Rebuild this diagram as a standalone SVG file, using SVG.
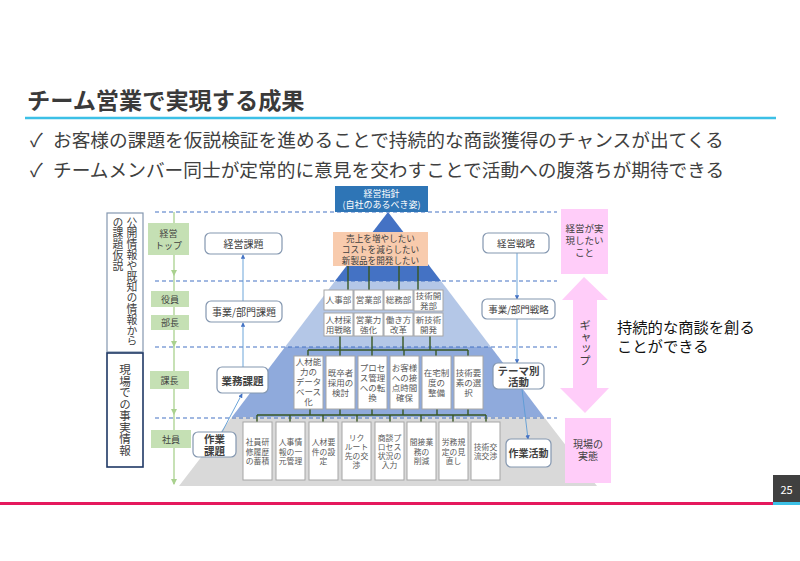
<svg xmlns="http://www.w3.org/2000/svg" width="800" height="561" viewBox="0 0 800 561">
<defs>
<style>
text{font-family:"Noto Sans CJK JP","Noto Sans",sans-serif;fill:#404040}
.t{text-anchor:middle}
.box{fill:#fff;stroke:#8497b0;stroke-width:1.2}
.sb{fill:#fff;stroke:#a6a6a6;stroke-width:1}
.gr{fill:#c5e0b4}
.pk{fill:#ffcdf9}
.dash{stroke:#4472c4;stroke-width:1.2;stroke-dasharray:4 3;fill:none}
.tree{stroke:#385723;stroke-width:1.4;fill:none}
.blu{stroke:#5b9bd5;stroke-width:0.9;fill:none}
.s85{font-size:8.5px;fill:#595959}
.s78{font-size:7.8px;fill:#595959}
.vt{writing-mode:vertical-rl}
</style>
<marker id="ab" viewBox="0 0 6 6" refX="5" refY="3" markerWidth="5" markerHeight="5" orient="auto"><path d="M0,0 L6,3 L0,6 z" fill="#4472c4"/></marker>
<marker id="ag" viewBox="0 0 6 6" refX="5" refY="3" markerWidth="5" markerHeight="5" orient="auto"><path d="M0,0 L6,3 L0,6 z" fill="#a9d18e"/></marker>
</defs>
<rect width="800" height="561" fill="#fff"/>

<!-- header -->
<g id="title">
<text x="27" y="109" style="font-size:23.2px;font-weight:bold;fill:#3a3a3a">チーム営業で実現する成果</text>
<line x1="25" y1="118" x2="776" y2="118" stroke="#3cc0e6" stroke-width="2.5"/>
</g>
<g id="bullets" style="font-size:18.7px">
<text x="30" y="147">✓</text>
<text x="53" y="147">お客様の課題を仮説検証を進めることで持続的な商談獲得のチャンスが出てくる</text>
<text x="30" y="177">✓</text>
<text x="53" y="177">チームメンバー同士が定常的に意見を交わすことで活動への腹落ちが期待できる</text>
</g>

<!-- pyramid -->
<g id="pyramid">
<polygon points="232,417 544,417 597,486 179,486" fill="#d9d9d9"/>
<polygon points="285,347 491,347 544,417 232,417" fill="#8faadc"/>
<polygon points="335,281 441,281 491,347 285,347" fill="#b4c7e7"/>
<polygon points="388,212 335,281 441,281" fill="#4472c4"/>
</g>

<!-- dashed level lines -->
<g id="levels">
<line class="dash" x1="155" y1="212" x2="557" y2="212"/>
<line class="dash" x1="155" y1="281" x2="557" y2="281"/>
<line class="dash" x1="155" y1="347" x2="557" y2="347"/>
<line class="dash" x1="155" y1="418" x2="557" y2="418"/>
</g>

<!-- connectors -->
<g id="connectors">
<g stroke="#a9d18e" stroke-width="1.3" fill="none">
<line x1="174" y1="212" x2="174" y2="223"/>
<line x1="174" y1="255" x2="174" y2="275" marker-end="url(#ag)"/>
<line x1="174" y1="275" x2="174" y2="291"/>
<line x1="174" y1="307" x2="174" y2="315"/>
<line x1="174" y1="330" x2="174" y2="346" marker-end="url(#ag)"/>
<line x1="174" y1="346" x2="174" y2="371"/>
<line x1="174" y1="389" x2="174" y2="414" marker-end="url(#ag)"/>
<line x1="174" y1="414" x2="174" y2="430"/>
<line x1="174" y1="448" x2="174" y2="484" marker-end="url(#ag)"/>
</g>
<line class="blu" x1="243" y1="301" x2="243" y2="255" marker-end="url(#ab)"/>
<line class="blu" x1="243" y1="367" x2="243" y2="323" marker-end="url(#ab)"/>
<line class="blu" x1="222" y1="432" x2="242" y2="394" marker-end="url(#ab)"/>
<line class="blu" x1="517" y1="253" x2="517" y2="299" marker-end="url(#ab)"/>
<line class="blu" x1="517" y1="319" x2="517" y2="363" marker-end="url(#ab)"/>
<line class="blu" x1="522" y1="389" x2="528" y2="439" marker-end="url(#ab)"/>
<g class="tree">
<path d="M348,266V290 M369,266V290 M399,266V290 M418,266V290"/>
<path d="M340,336V350 M372,336V350 M403,336V350 M430,336V350 M308,350H468 M308,350V356 M340,350V356 M372,350V356 M404,350V356 M436,350V356 M468,350V356"/>
<path d="M310,409V415 M340,409V415 M372,409V415 M403,409V415 M437,409V415 M468,409V415 M257,415H486 M257,415V422 M290,415V422 M323,415V422 M357,415V422 M390,415V422 M421,415V422 M453,415V422 M486,415V422"/>
</g>
</g>

<!-- left vertical boxes -->
<g id="hypothesis">
<rect x="107" y="213" width="36" height="139" fill="#fff" stroke="#8497b0" stroke-width="1.2"/>
<text class="vt" x="132" y="217" style="font-size:10.8px">公開情報や既知の情報から</text>
<text class="vt" x="118" y="217" style="font-size:10.8px">の課題仮説</text>
</g>
<g id="facts">
<rect x="107" y="353" width="36" height="114" fill="#fff" stroke="#1f3864" stroke-width="1.6"/>
<text class="vt" x="125" y="364" style="font-size:11.5px">現場での事実情報</text>
</g>

<!-- green role boxes -->
<g id="role-top"><rect class="gr" x="148" y="223" width="41" height="32"/>
<text class="t" x="168.5" y="237" style="font-size:9px">経営</text><text class="t" x="168.5" y="249" style="font-size:9px">トップ</text></g>
<g id="role-exec"><rect class="gr" x="151" y="291" width="38" height="16"/><text class="t" x="170" y="302.5" style="font-size:9px">役員</text></g>
<g id="role-gm"><rect class="gr" x="151" y="315" width="38" height="15"/><text class="t" x="170" y="326" style="font-size:9px">部長</text></g>
<g id="role-mgr"><rect class="gr" x="150" y="371" width="39" height="18"/><text class="t" x="169.5" y="383.5" style="font-size:9px">課長</text></g>
<g id="role-staff"><rect class="gr" x="151" y="430" width="40" height="18"/><text class="t" x="171" y="442.5" style="font-size:9px">社員</text></g>

<!-- issue column -->
<g id="issue-mgmt"><rect class="box" x="205" y="233" width="77" height="21" rx="5"/><text class="t" x="243.5" y="247.5" style="font-size:10px">経営課題</text></g>
<g id="issue-dept"><rect class="box" x="206" y="301" width="76" height="21" rx="5"/><text class="t" x="244" y="315.5" style="font-size:10px">事業/部門課題</text></g>
<g id="issue-ops"><rect class="box" x="217" y="367" width="51" height="26" rx="5"/><text class="t" x="242.5" y="384.5" style="font-size:10.5px;font-weight:bold">業務課題</text></g>
<g id="issue-task"><rect class="box" x="193" y="432" width="43" height="25" rx="5"/>
<text class="t" x="214.5" y="443" style="font-size:10.5px;font-weight:bold">作業</text><text class="t" x="214.5" y="455" style="font-size:10.5px;font-weight:bold">課題</text></g>

<!-- strategy column -->
<g id="strat-mgmt"><rect class="box" x="483" y="233" width="66" height="20" rx="5"/><text class="t" x="516" y="246.5" style="font-size:9.5px">経営戦略</text></g>
<g id="strat-dept"><rect class="box" x="482" y="299" width="73" height="20" rx="5"/><text class="t" x="518.5" y="312.5" style="font-size:9.5px">事業/部門戦略</text></g>
<g id="strat-theme"><rect class="box" x="493" y="363" width="51" height="26" rx="5"/>
<text class="t" x="518.5" y="374.5" style="font-size:10.5px;font-weight:bold">テーマ別</text><text class="t" x="518.5" y="386" style="font-size:10.5px;font-weight:bold">活動</text></g>
<g id="strat-task"><rect class="box" x="506" y="439" width="45" height="28" rx="5"/><text class="t" x="528.5" y="457" style="font-size:10px;font-weight:bold">作業活動</text></g>

<!-- top policy -->
<g id="policy"><rect x="335" y="186" width="93" height="26" fill="#2e75b6"/>
<text class="t" x="381.5" y="197" style="font-size:9px;fill:#fff">経営指針</text><text class="t" x="381.5" y="208" style="font-size:9px;fill:#fff">(自社のあるべき姿)</text></g>
<g id="wants"><rect x="333" y="232" width="95" height="34" fill="#f8cbad"/>
<text class="t" x="380.5" y="241.5" style="font-size:8.6px">売上を増やしたい</text>
<text class="t" x="380.5" y="252.5" style="font-size:8.6px">コストを減らしたい</text>
<text class="t" x="380.5" y="263.5" style="font-size:8.6px">新製品を開発したい</text></g>

<!-- departments -->
<g id="dept-hr"><rect class="sb" x="324" y="290" width="29" height="20"/><text class="t s85" x="338.5" y="303">人事部</text></g>
<g id="dept-sales"><rect class="sb" x="354" y="290" width="29" height="20"/><text class="t s85" x="368.5" y="303">営業部</text></g>
<g id="dept-ga"><rect class="sb" x="384" y="290" width="29" height="20"/><text class="t s85" x="398.5" y="303">総務部</text></g>
<g id="dept-rd"><rect class="sb" x="414" y="290" width="29" height="21"/><text class="t s85" x="428.5" y="299">技術開</text><text class="t s85" x="428.5" y="308.5">発部</text></g>
<g id="goal-hr"><rect class="sb" x="324" y="313" width="29" height="23"/><text class="t s85" x="338.5" y="323">人材採</text><text class="t s85" x="338.5" y="332.5">用戦略</text></g>
<g id="goal-sales"><rect class="sb" x="354" y="313" width="29" height="23"/><text class="t s85" x="368.5" y="323">営業力</text><text class="t s85" x="368.5" y="332.5">強化</text></g>
<g id="goal-ga"><rect class="sb" x="384" y="313" width="29" height="23"/><text class="t s85" x="398.5" y="323">働き方</text><text class="t s85" x="398.5" y="332.5">改革</text></g>
<g id="goal-rd"><rect class="sb" x="414" y="313" width="29" height="23"/><text class="t s85" x="428.5" y="323">新技術</text><text class="t s85" x="428.5" y="332.5">開発</text></g>

<!-- business tasks -->
<g id="ops1"><rect class="sb" x="294" y="356" width="29" height="53"/>
<text class="t s85" x="308.5" y="365">人材能</text><text class="t s85" x="308.5" y="375">力の</text><text class="t s85" x="308.5" y="385">データ</text><text class="t s85" x="308.5" y="395">ベース</text><text class="t s85" x="308.5" y="405">化</text></g>
<g id="ops2"><rect class="sb" x="326" y="356" width="29" height="53"/>
<text class="t s85" x="340.5" y="376">既卒者</text><text class="t s85" x="340.5" y="386">採用の</text><text class="t s85" x="340.5" y="396">検討</text></g>
<g id="ops3"><rect class="sb" x="358" y="356" width="29" height="53"/>
<text class="t s85" x="372.5" y="371">プロセ</text><text class="t s85" x="372.5" y="381">ス管理</text><text class="t s85" x="372.5" y="391">への転</text><text class="t s85" x="372.5" y="401">換</text></g>
<g id="ops4"><rect class="sb" x="390" y="356" width="29" height="53"/>
<text class="t s85" x="404.5" y="371">お客様</text><text class="t s85" x="404.5" y="381">への接</text><text class="t s85" x="404.5" y="391">点時間</text><text class="t s85" x="404.5" y="401">確保</text></g>
<g id="ops5"><rect class="sb" x="422" y="356" width="29" height="53"/>
<text class="t s85" x="436.5" y="376">在宅制</text><text class="t s85" x="436.5" y="386">度の</text><text class="t s85" x="436.5" y="396">整備</text></g>
<g id="ops6"><rect class="sb" x="454" y="356" width="29" height="53"/>
<text class="t s85" x="468.5" y="376">技術要</text><text class="t s85" x="468.5" y="386">素の選</text><text class="t s85" x="468.5" y="396">択</text></g>

<!-- work items -->
<g id="w1"><rect class="sb" x="243" y="422" width="29" height="58"/><text class="t s78" x="257.5" y="445">社員研</text><text class="t s78" x="257.5" y="454.5">修履歴</text><text class="t s78" x="257.5" y="464">の蓄積</text></g>
<g id="w2"><rect class="sb" x="276" y="422" width="29" height="58"/><text class="t s78" x="290.5" y="445">人事情</text><text class="t s78" x="290.5" y="454.5">報の一</text><text class="t s78" x="290.5" y="464">元管理</text></g>
<g id="w3"><rect class="sb" x="309" y="422" width="29" height="58"/><text class="t s78" x="323.5" y="445">人材要</text><text class="t s78" x="323.5" y="454.5">件の設</text><text class="t s78" x="323.5" y="464">定</text></g>
<g id="w4"><rect class="sb" x="342" y="422" width="29" height="58"/><text class="t s78" x="356.5" y="441">リク</text><text class="t s78" x="356.5" y="450">ルート</text><text class="t s78" x="356.5" y="459">先の交</text><text class="t s78" x="356.5" y="468">渉</text></g>
<g id="w5"><rect class="sb" x="375" y="422" width="29" height="58"/><text class="t s78" x="389.5" y="441">商談プ</text><text class="t s78" x="389.5" y="450">ロセス</text><text class="t s78" x="389.5" y="459">状況の</text><text class="t s78" x="389.5" y="468">入力</text></g>
<g id="w6"><rect class="sb" x="407" y="422" width="29" height="58"/><text class="t s78" x="421.5" y="445">間接業</text><text class="t s78" x="421.5" y="454.5">務の</text><text class="t s78" x="421.5" y="464">削減</text></g>
<g id="w7"><rect class="sb" x="439" y="422" width="29" height="58"/><text class="t s78" x="453.5" y="445">労務規</text><text class="t s78" x="453.5" y="454.5">定の見</text><text class="t s78" x="453.5" y="464">直し</text></g>
<g id="w8"><rect class="sb" x="471" y="422" width="29" height="58"/><text class="t s78" x="485.5" y="450">技術交</text><text class="t s78" x="485.5" y="459">流交渉</text></g>

<!-- pink side -->
<g id="want-box"><rect class="pk" x="561" y="209" width="47" height="65"/>
<text class="t" x="584.5" y="232" style="font-size:9.5px">経営が実</text><text class="t" x="584.5" y="244" style="font-size:9.5px">現したい</text><text class="t" x="584.5" y="256" style="font-size:9.5px">こと</text></g>
<g id="gap-arrow"><polygon class="pk" points="584,277 608,300 597,300 597,388 609,388 585,413 560,388 573,388 573,300 562,300"/>
<text class="vt" x="585" y="320" style="font-size:11.5px">ギャップ</text></g>
<g id="reality-box"><rect class="pk" x="565" y="418" width="46" height="65"/>
<text class="t" x="588" y="448" style="font-size:10px">現場の</text><text class="t" x="588" y="460" style="font-size:10px">実態</text></g>

<g id="conclusion" style="font-size:15.3px">
<text x="617" y="333" style="fill:#111">持続的な商談を創る</text>
<text x="617" y="352" style="fill:#111">ことができる</text>
</g>

<!-- footer -->
<g id="footer">
<line x1="0" y1="503.5" x2="773" y2="503.5" stroke="#e5185d" stroke-width="3"/>
<rect x="773" y="475" width="27" height="28" fill="#404040"/>
<text class="t" x="786.5" y="494" style="font-size:11px;fill:#fff">25</text>
<line x1="773" y1="503.5" x2="800" y2="503.5" stroke="#3cc0e6" stroke-width="3"/>
</g>
</svg>
